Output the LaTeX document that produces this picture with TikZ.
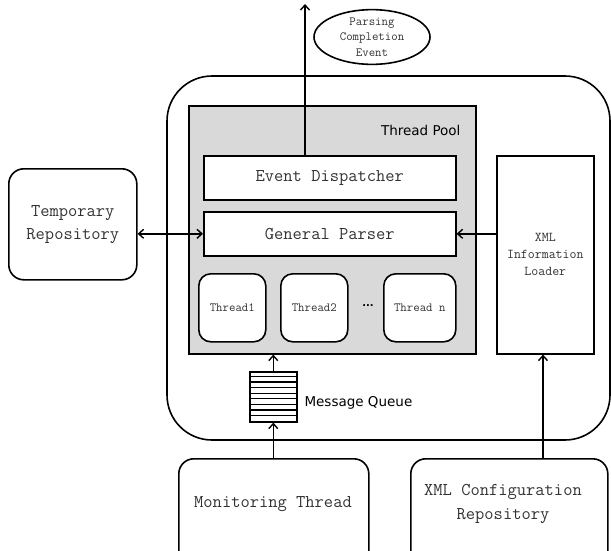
\documentclass[tikz,border=0pt]{standalone}
\usepackage{fontspec}
\newfontfamily\labelsans{DejaVu Sans}
\usetikzlibrary{arrows.meta,shapes.geometric}
\begin{document}
\begin{tikzpicture}[x=1pt,y=-1pt,
  box/.style={draw,line width=1.6pt,fill=white,inner sep=0pt},
  rbox/.style={box,rounded corners=12pt},
  tip/.tip={Straight Barb[length=5pt,width=9pt,line width=1.4pt]},
  conn/.style={line width=1.4pt,-tip},
  txt/.style={text=black!80,align=center,font=\ttfamily\fontsize{18}{20}\selectfont},
  small/.style={font=\ttfamily\fontsize{12.5}{15}\selectfont}]
\useasboundingbox (0,0) rectangle (611,550);
% outer rounded container
\draw[line width=1.6pt,rounded corners=45pt] (167,76) rectangle (610,440);
% thread pool
\node[draw,line width=1.6pt,fill=black!15,minimum width=287pt,minimum height=248pt,anchor=north west] (pool) at (188,105) {};
\node[anchor=east,font=\labelsans\fontsize{13.5}{16}\selectfont] (pooltxt) at (464,130) {Thread Pool};
% event dispatcher and parser
\node[box,minimum width=252pt,minimum height=44pt,anchor=north west,txt] (ed) at (203,155) {Event Dispatcher};
\node[box,minimum width=252pt,minimum height=44pt,anchor=north west,txt] (gp) at (203,211) {General Parser};
% threads
\node[rbox,minimum width=67pt,minimum height=68pt,anchor=north west,txt,small] (t1) at (198,273) {Thread1};
\node[rbox,minimum width=67pt,minimum height=68pt,anchor=north west,txt,small] (t2) at (280,273) {Thread2};
\node[rbox,minimum width=72pt,minimum height=68pt,anchor=north west,txt,small] (tn) at (383,273) {Thread n};
\node[font=\labelsans\fontsize{10}{12}\selectfont] (dots) at (368,306) {\textbf{...}};
% XML information loader
\node[box,minimum width=97pt,minimum height=198pt,anchor=north west,txt,font=\ttfamily\fontsize{13.5}{17}\selectfont] (xil) at (496,155) {XML\\Information\\Loader};
% temporary repository
\node[draw,line width=1.6pt,rounded corners=15pt,minimum width=128pt,minimum height=111pt,anchor=north west,txt,font=\ttfamily\fontsize{18}{23}\selectfont] (tmp) at (8,168) {Temporary\\Repository};
% ellipse
\node[draw,ellipse,line width=1.6pt,minimum width=116pt,minimum height=50pt,inner sep=0pt,txt,font=\ttfamily\fontsize{12.5}{15.5}\selectfont] (pce) at (372,37) {Parsing\\Completion\\Event};
\coordinate (topend) at (305,4);
% message queue
\node[draw,line width=1.6pt,fill=white,minimum width=47pt,minimum height=50pt,anchor=north west,inner sep=0pt] (mq) at (249,371) {};
\foreach \i in {1,...,8} {\draw[line width=1.4pt] (249,{371+\i*50/9}) -- (296,{371+\i*50/9});}
\node[anchor=west,font=\labelsans\fontsize{13.5}{16}\selectfont] (mqtxt) at (301,403) {Message Queue};
% bottom boxes
\node[draw,line width=1.6pt,rounded corners=15pt,minimum width=190pt,minimum height=110pt,anchor=north west] (mon) at (178,458) {};
\node[txt] (montxt) at (273,504) {Monitoring Thread};
\node[draw,line width=1.6pt,rounded corners=15pt,minimum width=197pt,minimum height=110pt,anchor=north west] (xcr) at (410,458) {};
\node[txt,font=\ttfamily\fontsize{18}{24}\selectfont] (xcrtxt) at (503,504) {XML Configuration\\Repository};
% connectors
\draw[conn] (ed.north -| topend) -- (topend);
\draw[line width=1.4pt,tip-tip] (tmp.east |- gp.west) -- (gp.west);
\draw[conn] (xil.west |- gp.east) -- (gp.east);
\draw[conn] (mq.north) -- (mq.north |- pool.south);
\draw[conn] (mq.south |- mon.north) -- (mq.south);
\draw[conn] (543,458) coordinate (xcrtop) -- (xcrtop |- xil.south);
\end{tikzpicture}
\end{document}
